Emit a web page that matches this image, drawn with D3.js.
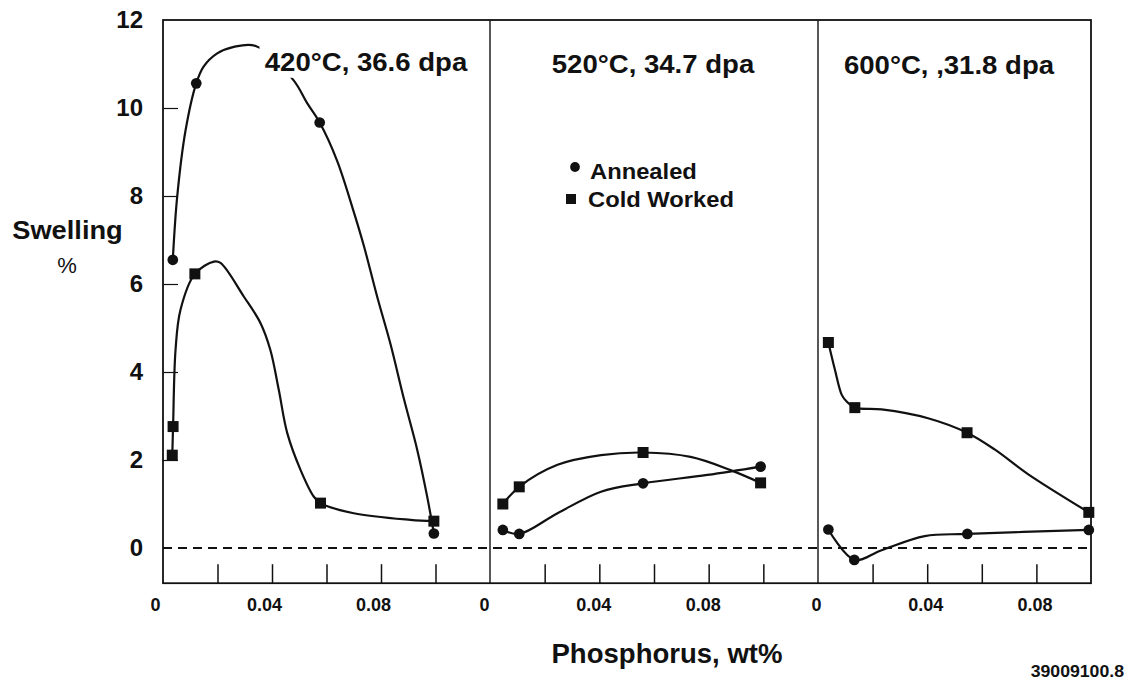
<!DOCTYPE html>
<html>
<head>
<meta charset="utf-8">
<script src="https://cdn.jsdelivr.net/npm/d3@7"></script>
<style>
  body { margin: 0; background: #fff; }
  text { font-family: "Liberation Sans", Arial, Helvetica, sans-serif; font-weight: bold; fill: #111; }
</style>
</head>
<body>
<svg id="fig"></svg>
<script>
var W = 1128, H = 680; // canvas

// ---- data ----
var panelTitles = ["420°C, 36.6 dpa", "520°C, 34.7 dpa", "600°C, ,31.8 dpa"];
var seriesNames = ["Annealed", "Cold Worked"];
var xTickLabels = [0, 0.04, 0.08];
var xTickMarks = [0.02, 0.04, 0.06, 0.08, 0.10];
var yTickLabels = [0, 2, 4, 6, 8, 10, 12];
var yTickMarks = [2, 4, 6, 8, 10];
var figureId = "39009100.8";

// measured points: [P wt%, swelling %]
var annealed420 = [[0.0036, 6.55], [0.0122, 10.56], [0.0575, 9.67], [0.0994, 0.33]];
var coldWorked420 = [[0.0034, 2.11], [0.0037, 2.76], [0.0117, 6.23], [0.0578, 1.02], [0.0994, 0.61]];
var annealed520 = [[0.0047, 0.41], [0.0107, 0.32], [0.0560, 1.47], [0.0990, 1.85]];
var coldWorked520 = [[0.0047, 1.00], [0.0107, 1.39], [0.0560, 2.17], [0.0990, 1.48]];
var annealed600 = [[0.0038, 0.42], [0.0133, -0.27], [0.0547, 0.32], [0.0992, 0.41]];
var coldWorked600 = [[0.0038, 4.67], [0.0135, 3.19], [0.0546, 2.62], [0.0992, 0.81]];

// hand drawn trend curves
var annealedFit420 = [[0.0036, 6.55], [0.0052, 7.98], [0.0083, 9.5], [0.0122, 10.56], [0.0149, 10.94],
  [0.0199, 11.24], [0.026, 11.39], [0.034, 11.41], [0.0478, 10.64], [0.0529, 10.11], [0.0575, 9.67],
  [0.0639, 8.8], [0.070, 7.64], [0.0737, 6.87], [0.0786, 5.71], [0.0835, 4.63], [0.0884, 3.39],
  [0.0933, 2.23], [0.097, 1.15], [0.0994, 0.33]];
var coldFit420 = [[0.0034, 2.11], [0.0037, 2.76], [0.0046, 4.5], [0.0064, 5.41], [0.0117, 6.23],
  [0.0187, 6.51], [0.0211, 6.48], [0.0297, 5.71], [0.0358, 5.11], [0.0394, 4.5], [0.0425, 3.59],
  [0.0456, 2.61], [0.0505, 1.77], [0.0553, 1.17], [0.0578, 1.02], [0.070, 0.79], [0.0908, 0.64],
  [0.0994, 0.61]];
var annealedFit520 = [[0.0047, 0.41], [0.0107, 0.32], [0.0247, 0.79], [0.0406, 1.28], [0.0560, 1.47],
  [0.0795, 1.66], [0.0990, 1.85]];
var coldFit520 = [[0.0047, 1.00], [0.0107, 1.39], [0.0247, 1.89], [0.0406, 2.11], [0.0560, 2.17],
  [0.0734, 2.07], [0.088, 1.77], [0.0990, 1.48]];
var annealedFit600 = [[0.0038, 0.42], [0.0133, -0.27], [0.0233, -0.05], [0.0391, 0.27], [0.0547, 0.32],
  [0.0992, 0.41]];
var coldFit600 = [[0.0038, 4.67], [0.0062, 4.05], [0.0087, 3.48], [0.0105, 3.33], [0.0135, 3.19],
  [0.0233, 3.15], [0.0403, 2.95], [0.0546, 2.62], [0.0647, 2.24], [0.0769, 1.68], [0.0992, 0.81]];

// ---- layout ----
var panelRange = [[163, 490], [490, 818], [818, 1091]];
var panelMax = [0.12, 0.12, 0.10];
var labelShift = [-8, -6, -2]; // x labels sit a little left of their ticks
var titleX = [366, 653, 949];
var titleY = [71, 73, 74];

var panels = [
  { anneal: annealed420, cold: coldWorked420, annealFit: annealedFit420, coldFit: coldFit420 },
  { anneal: annealed520, cold: coldWorked520, annealFit: annealedFit520, coldFit: coldFit520 },
  { anneal: annealed600, cold: coldWorked600, annealFit: annealedFit600, coldFit: coldFit600 }
];

// Helper for translating groups
function gpos(x, y) {
  return "translate(" + x + "," + y + ")";
}

// Text helper; sx stretches the glyphs sideways like the scanned original
function label(sel, x, y, txt, size, anchor, sx) {
  return sel.append("text")
    .attr("transform", gpos(x, y) + " scale(" + (sx || 1) + ",1)")
    .attr("text-anchor", anchor || "start")
    .style("font-size", size + "px")
    .text(txt);
}

var svg = d3.select("#fig").attr("width", W).attr("height", H);

var y = d3.scaleLinear().domain([-0.8, 12]).range([583.2, 20]);

function fmtX(d) { return d === 0 ? "0" : d3.format(".2f")(d); }

var sqSym = d3.symbol().type(d3.symbolSquare).size(121);
var dotSym = d3.symbol().type(d3.symbolCircle).size(90);

// Dashed zero line across all panels
svg.append("line")
  .attr("x1", panelRange[0][0]).attr("x2", panelRange[2][1])
  .attr("y1", y(0)).attr("y2", y(0))
  .style("stroke", "#111").style("stroke-width", 1.8)
  .style("stroke-dasharray", "9,6");

panels.forEach(function(p, i) {
  var x = d3.scaleLinear().domain([0, panelMax[i]]).range(panelRange[i]);
  var g = svg.append("g").attr("class", "panel");

  // Ticks pointing up from the bottom edge
  g.append("g").attr("transform", gpos(0, y(-0.8)))
    .call(d3.axisTop(x).tickValues(xTickMarks.filter(function(v) { return v < panelMax[i] - 1e-9; }))
      .tickSize(19).tickFormat(""))
    .call(function(a) { a.select(".domain").remove(); })
    .selectAll("line").style("stroke", "#111").style("stroke-width", 1.5);

  // Tick labels below
  g.append("g").attr("transform", gpos(0, y(-0.8)))
    .call(d3.axisBottom(x).tickValues(xTickLabels).tickSize(0).tickFormat(fmtX))
    .call(function(a) { a.select(".domain").remove(); })
    .selectAll("text")
    .attr("y", 28).attr("dy", null).attr("dx", labelShift[i])
    .style("font-size", "18px").style("fill", "#111");

  var line = d3.line()
    .x(function(d) { return x(d[0]); })
    .y(function(d) { return y(d[1]); })
    .curve(d3.curveCatmullRom.alpha(0.5));

  g.append("path").datum(p.coldFit).attr("d", line)
    .style("fill", "none").style("stroke", "#111").style("stroke-width", 2.2);
  g.append("path").datum(p.annealFit).attr("d", line)
    .style("fill", "none").style("stroke", "#111").style("stroke-width", 2.2);

  g.selectAll(".sq").data(p.cold).enter().append("path").attr("class", "sq")
    .attr("d", sqSym)
    .attr("transform", function(d) { return gpos(x(d[0]), y(d[1])); })
    .style("fill", "#111");
  g.selectAll(".dot").data(p.anneal).enter().append("path").attr("class", "dot")
    .attr("d", dotSym)
    .attr("transform", function(d) { return gpos(x(d[0]), y(d[1])); })
    .style("fill", "#111");

  // Panel title on a white patch (it hides the curve behind it)
  var tg = svg.append("g");
  var t = label(tg, titleX[i], titleY[i], panelTitles[i], 26, "middle", 1.06);
  var bb = t.node().getBBox();
  tg.insert("rect", "text")
    .attr("transform", gpos(titleX[i], titleY[i]) + " scale(1.06,1)")
    .attr("x", bb.x - 5).attr("y", bb.y - 1)
    .attr("width", bb.width + 10).attr("height", bb.height + 2)
    .style("fill", "#fff");
});

// Frame
svg.append("rect")
  .attr("x", panelRange[0][0]).attr("y", y(12))
  .attr("width", panelRange[2][1] - panelRange[0][0]).attr("height", y(-0.8) - y(12))
  .style("fill", "none").style("stroke", "#111").style("stroke-width", 1.8);
[panelRange[1][0], panelRange[2][0]].forEach(function(px) {
  svg.append("line").attr("x1", px).attr("x2", px).attr("y1", y(12)).attr("y2", y(-0.8))
    .style("stroke", "#111").style("stroke-width", 1.4);
});

// Y axis: labels outside, short ticks inside
svg.append("g").attr("transform", gpos(panelRange[0][0], 0))
  .call(d3.axisLeft(y).tickValues(yTickLabels).tickSize(0).tickPadding(20))
  .call(function(a) { a.select(".domain").remove(); })
  .selectAll("text").style("font-size", "24px").style("fill", "#111");
svg.append("g").attr("transform", gpos(panelRange[0][0], 0))
  .call(d3.axisRight(y).tickValues(yTickMarks).tickSize(15).tickFormat(""))
  .call(function(a) { a.select(".domain").remove(); })
  .selectAll("line").style("stroke", "#111").style("stroke-width", 1.2);

// Axis titles
label(svg, 67.5, 239, "Swelling", 25, "middle", 1.09);
label(svg, 67, 273, "%", 22, "middle", 1).style("font-weight", "normal");
label(svg, 667, 663, "Phosphorus, wt%", 27, "middle", 1.02);
label(svg, 1124, 677, figureId, 17, "end", 1.04);

// Legend
var lg = svg.append("g");
lg.append("path").attr("d", d3.symbol().type(d3.symbolCircle).size(75)).attr("transform", gpos(575, 167)).style("fill", "#111");
lg.append("path").attr("d", d3.symbol().type(d3.symbolSquare).size(100)).attr("transform", gpos(571, 199)).style("fill", "#111");
label(lg, 590, 179, seriesNames[0], 22, "start", 1.08);
label(lg, 588, 207, seriesNames[1], 22, "start", 1.08);
</script>
</body>
</html>
